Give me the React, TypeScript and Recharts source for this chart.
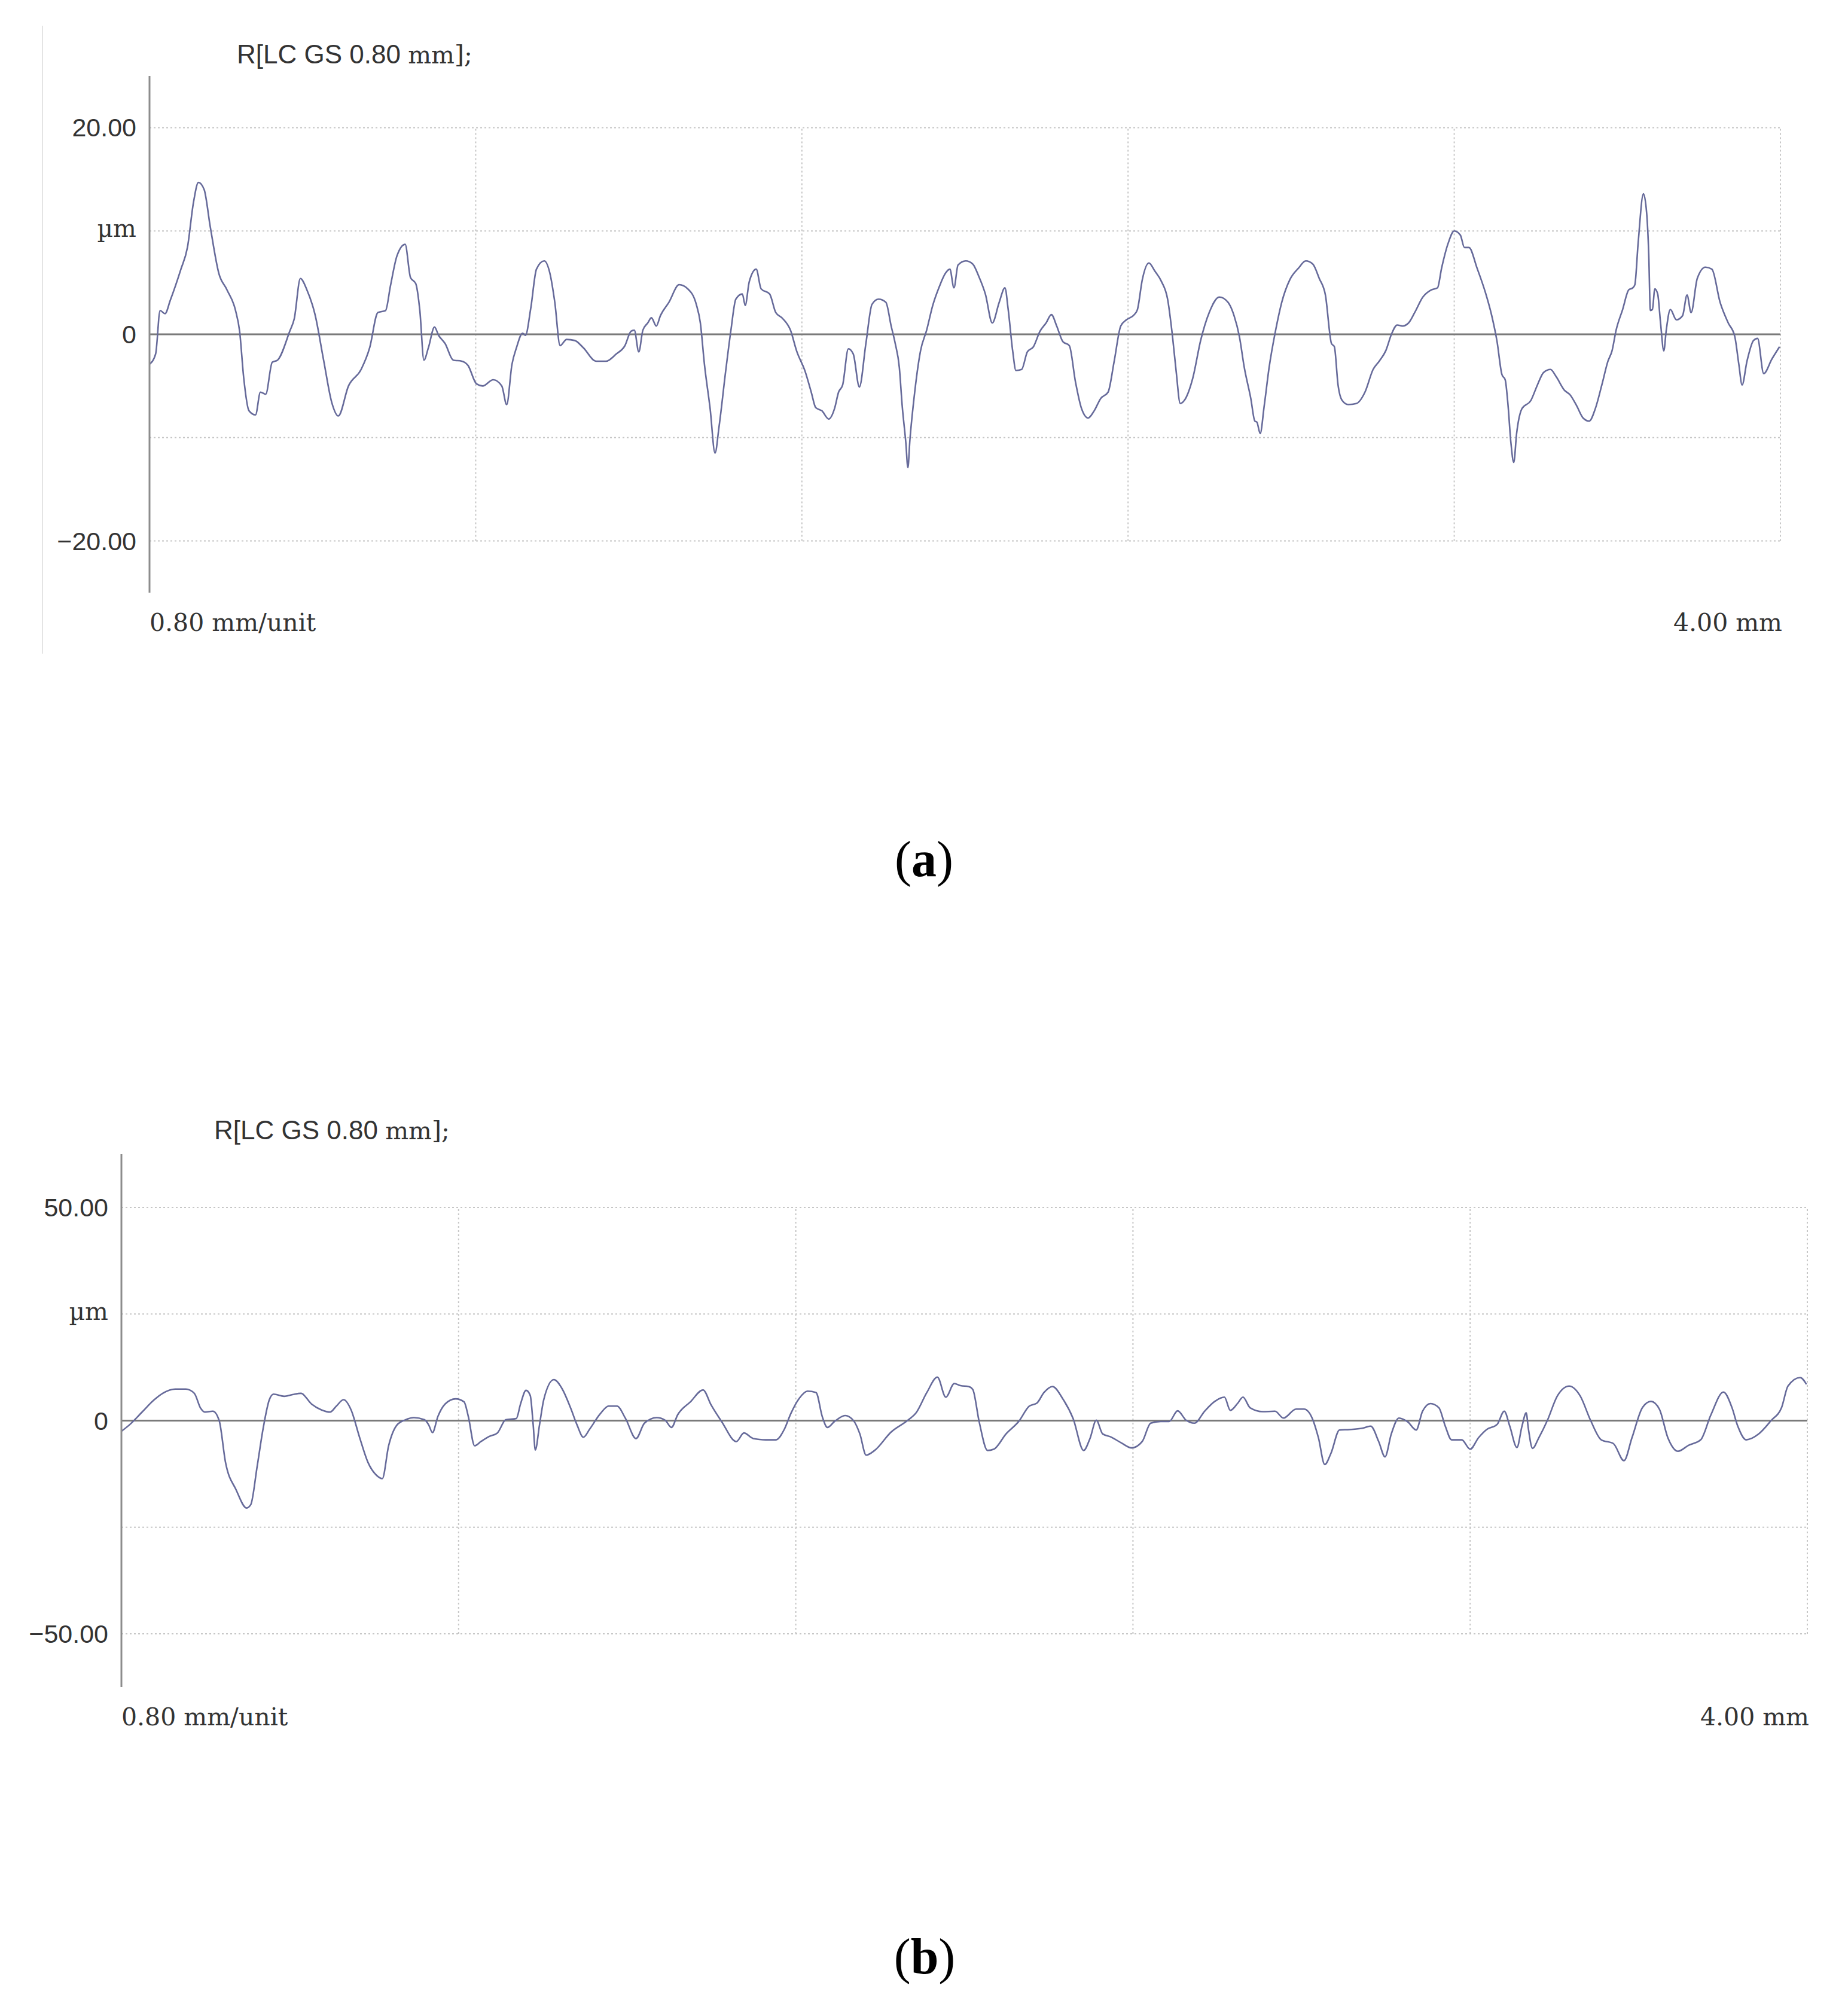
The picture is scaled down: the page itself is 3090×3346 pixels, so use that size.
import React from "react";
import { LineChart, Line, XAxis, YAxis, CartesianGrid, ReferenceLine } from "recharts";

type Pt = [number, number];

// (a) roughness profile, x in mm, height in µm
const profileA1: Pt[] = [
  [0, -2.9], [0.015, -1.9], [0.026, 2.3], [0.038, 2.0], [0.051, 3.3], [0.077, 6.3], [0.093, 8.4], [0.108, 12.8],
  [0.12, 14.7], [0.134, 14.0], [0.149, 10.4], [0.17, 5.9], [0.19, 4.3], [0.211, 2.3], [0.221, 0.3], [0.231, -4.2],
  [0.244, -7.4], [0.26, -7.8], [0.272, -5.6], [0.285, -5.8], [0.301, -2.7], [0.314, -2.5], [0.344, 0.3], [0.355, 1.5],
  [0.37, 5.4], [0.386, 4.3], [0.406, 1.9], [0.427, -2.5], [0.447, -6.6], [0.463, -7.9], [0.488, -5.0], [0.519, -3.4],
  [0.54, -1.3], [0.56, 2.1], [0.579, 2.3], [0.591, 4.7], [0.607, 7.6], [0.627, 8.7], [0.64, 5.5], [0.653, 4.9],
  [0.663, 2.3], [0.673, -2.5], [0.684, -1.3], [0.699, 0.7], [0.709, -0.1], [0.725, -0.9], [0.745, -2.5], [0.766, -2.6],
  [0.781, -3.0], [0.802, -4.8], [0.817, -5.0], [0.843, -4.4], [0.864, -5.0], [0.876, -6.8], [0.889, -2.9], [0.9, -1.3],
  [0.915, 0.1], [0.922, -0.1], [0.935, 2.5], [0.949, 6.3], [0.968, 7.1], [0.982, 5.9], [0.994, 3.1], [1.007, -1.1],
  [1.023, -0.5], [1.043, -0.6], [1.064, -1.3], [1.095, -2.6],
];
const profileA2: Pt[] = [
  [1.12, -2.6], [1.145, -1.9], [1.166, -1.1], [1.181, 0.3], [1.189, 0.4], [1.2, -1.7], [1.21, 0.4], [1.222, 1.1],
  [1.231, 1.6], [1.243, 0.8], [1.253, 1.8], [1.274, 3.1], [1.299, 4.8], [1.32, 4.4], [1.341, 2.9], [1.351, 1.1],
  [1.361, -2.9], [1.375, -7.2], [1.387, -11.5], [1.397, -8.9], [1.413, -3.6], [1.426, 0.4], [1.438, 3.4], [1.454, 3.9],
  [1.461, 2.8], [1.471, 5.1], [1.488, 6.3], [1.5, 4.4], [1.521, 3.9], [1.536, 2.1], [1.551, 1.6], [1.572, 0.4],
  [1.587, -1.6], [1.608, -3.6], [1.623, -5.6], [1.634, -7.1], [1.649, -7.4], [1.666, -8.2], [1.68, -7.2], [1.69, -5.6],
  [1.7, -4.9], [1.714, -1.4], [1.726, -1.9], [1.741, -5.1], [1.757, -0.9], [1.772, 2.9], [1.788, 3.4], [1.806, 3.1],
  [1.819, 0.8], [1.829, -0.9], [1.839, -3.2], [1.846, -6.9], [1.855, -10.5], [1.86, -12.9], [1.865, -10.2], [1.875, -6.2],
  [1.891, -1.6], [1.906, 0.4], [1.921, 2.8], [1.937, 4.6], [1.952, 5.9], [1.963, 6.3], [1.973, 4.5], [1.983, 6.7],
  [2.002, 7.1], [2.019, 6.8], [2.034, 5.6], [2.05, 3.9], [2.067, 1.1], [2.084, 3.1], [2.098, 4.5], [2.106, 2.4],
  [2.117, -1.6], [2.125, -3.5], [2.139, -3.4], [2.153, -1.7], [2.168, -1.2], [2.184, 0.3], [2.199, 1.1], [2.212, 1.9],
  [2.225, 0.8], [2.24, -0.7], [2.256, -1.1], [2.271, -4.6], [2.286, -7.2], [2.302, -8.1], [2.317, -7.4], [2.333, -6.2],
  [2.351, -5.6], [2.366, -2.6], [2.382, 0.8], [2.396, 1.4], [2.415, 1.9], [2.423, 2.4], [2.435, 5.3], [2.451, 6.9],
  [2.466, 6.1], [2.482, 5.1], [2.497, 3.4], [2.509, -0.2], [2.518, -3.6], [2.528, -6.7], [2.538, -6.4], [2.559, -4.2],
];
const profileA3: Pt[] = [
  [2.578, -0.6], [2.599, 2.1], [2.624, 3.6], [2.645, 3.1], [2.66, 1.8], [2.673, -0.2], [2.685, -3.2], [2.701, -6.2],
  [2.711, -8.4], [2.716, -8.5], [2.724, -9.6], [2.734, -6.9], [2.746, -3.2], [2.762, 0.4], [2.777, 3.1], [2.797, 5.3],
  [2.818, 6.4], [2.836, 7.1], [2.853, 6.8], [2.869, 5.4], [2.884, 3.8], [2.899, -0.9], [2.906, -1.2], [2.915, -4.9],
  [2.925, -6.4], [2.94, -6.8], [2.96, -6.7], [2.981, -5.6], [3.001, -3.4], [3.016, -2.6], [3.032, -1.6], [3.047, 0.1],
  [3.06, 0.9], [3.073, 0.8], [3.088, 1.1], [3.103, 2.1], [3.123, 3.6], [3.144, 4.3], [3.159, 4.5], [3.169, 6.4],
  [3.185, 8.8], [3.2, 10.0], [3.215, 9.6], [3.225, 8.4], [3.236, 8.4], [3.256, 6.4], [3.276, 4.1], [3.292, 1.8],
  [3.305, -0.7], [3.317, -3.9], [3.325, -4.4], [3.332, -6.9], [3.339, -10.5], [3.346, -12.4], [3.353, -9.6], [3.366, -7.2],
  [3.388, -6.4], [3.404, -4.9], [3.419, -3.7], [3.436, -3.4], [3.45, -4.1], [3.47, -5.4], [3.485, -5.9], [3.5, -6.9],
  [3.516, -8.1], [3.531, -8.4], [3.546, -7.2], [3.562, -4.9], [3.577, -2.6], [3.587, -1.6], [3.597, 0.4], [3.613, 2.4],
  [3.628, 4.3], [3.638, 4.5], [3.643, 4.8], [3.651, 8.8], [3.664, 13.6], [3.672, 11.7], [3.677, 7.8], [3.681, 2.3],
  [3.686, 2.4], [3.692, 4.4], [3.699, 3.9], [3.706, 1.1], [3.714, -1.6], [3.72, 0.4], [3.73, 2.4], [3.745, 1.4],
  [3.76, 1.8], [3.771, 3.8], [3.781, 2.1], [3.796, 5.4], [3.816, 6.5], [3.832, 6.3], [3.852, 3.1], [3.872, 1.1],
  [3.888, -0.2], [3.898, -2.9], [3.906, -4.9], [3.918, -2.6], [3.934, -0.6], [3.944, -0.4], [3.959, -3.8], [3.979, -2.4],
  [3.998, -1.2],
];

// (b) roughness profile
const profileB1: Pt[] = [
  [0, -2.5], [0.019, -1.0], [0.049, 2.0], [0.078, 4.9], [0.098, 6.4], [0.128, 7.4], [0.153, 7.4], [0.173, 6.4],
  [0.188, 2.9], [0.198, 2.0], [0.217, 2.2], [0.232, 0], [0.247, -9.8], [0.272, -16.2], [0.297, -20.5], [0.307, -19.7],
  [0.322, -10.8], [0.336, -2.0], [0.351, 4.9], [0.361, 6.2], [0.386, 5.7], [0.406, 6.1], [0.426, 6.4], [0.451, 3.9],
  [0.475, 2.5], [0.495, 2.0], [0.51, 3.4], [0.527, 4.9], [0.545, 2.5], [0.565, -3.9], [0.585, -9.8], [0.605, -12.8],
  [0.619, -13.6], [0.634, -5.9], [0.654, -1.0], [0.674, 0.2], [0.694, 0.7], [0.719, 0.2], [0.729, -1.0], [0.738, -2.8],
  [0.751, 1.0], [0.768, 3.9], [0.793, 5.1], [0.813, 4.4], [0.823, 1.0], [0.838, -5.9], [0.853, -4.9], [0.873, -3.7],
  [0.892, -2.9], [0.912, 0.2], [0.937, 0.5], [0.947, 3.9], [0.96, 7.1], [0.97, 5.9], [0.977, -1.0], [0.982, -6.9],
  [0.992, -1.0], [1.002, 4.9], [1.026, 9.6], [1.046, 7.4], [1.066, 2.9], [1.081, -1.0], [1.096, -3.9], [1.111, -2.0],
];
const profileB2: Pt[] = [
  [1.136, 1.6], [1.156, 3.4], [1.176, 3.4], [1.196, 0.5], [1.221, -4.2], [1.241, -0.6], [1.27, 0.7], [1.29, 0.1],
  [1.305, -1.6], [1.32, 1.4], [1.35, 4.4], [1.38, 7.2], [1.399, 3.7], [1.424, -0.2], [1.459, -4.9], [1.477, -2.9],
  [1.499, -4.2], [1.529, -4.5], [1.553, -4.5], [1.573, -2.0], [1.588, 1.6], [1.608, 5.2], [1.628, 6.9], [1.648, 6.6],
  [1.663, 0.9], [1.675, -1.6], [1.692, -0.2], [1.717, 1.2], [1.737, 0], [1.752, -3.1], [1.767, -8.1], [1.787, -7.0],
  [1.826, -2.7], [1.866, 0.1], [1.886, 1.9], [1.911, 6.6], [1.936, 10.2], [1.956, 5.5], [1.976, 8.7], [1.991, 8.2],
  [2.01, 8.0], [2.02, 7.3], [2.035, -0.2], [2.055, -7.0], [2.07, -6.7], [2.099, -3.1], [2.129, -0.2], [2.154, 3.4],
  [2.172, 4.1], [2.189, 6.6], [2.209, 8.0], [2.233, 5.2], [2.258, 0.5], [2.283, -7.0], [2.298, -4.2], [2.313, 0.1],
  [2.328, -3.1], [2.347, -3.8], [2.372, -5.2], [2.397, -6.4], [2.422, -4.9], [2.442, -0.6], [2.466, -0.2], [2.486, -0.2],
  [2.506, 2.3], [2.526, 0.1], [2.546, -0.6],
];
const profileB3: Pt[] = [
  [2.57, 2.2], [2.594, 4.5], [2.617, 5.5], [2.631, 2.4], [2.648, 4.0], [2.661, 5.5], [2.678, 3.0], [2.708, 2.1],
  [2.737, 2.2], [2.757, 0.6], [2.787, 2.7], [2.806, 2.7], [2.826, 0.4], [2.84, -4.0], [2.855, -10.3], [2.87, -7.6],
  [2.89, -2.2], [2.914, -2.1], [2.944, -1.8], [2.964, -1.3], [2.983, -4.9], [2.998, -8.5], [3.013, -3.1], [3.031, 0.6],
  [3.052, -0.3], [3.072, -2.2], [3.087, 2.2], [3.106, 4.0], [3.126, 3.0], [3.141, -1.3], [3.156, -4.5], [3.18, -4.5],
  [3.2, -6.7], [3.22, -4.0], [3.239, -2.1], [3.264, -0.9], [3.281, 2.2], [3.294, -1.3], [3.311, -6.3], [3.323, -1.3],
  [3.333, 1.8], [3.338, -1.8], [3.348, -6.5], [3.363, -4.0], [3.383, 0], [3.407, 5.8], [3.435, 8.1], [3.461, 5.8],
  [3.486, 0], [3.511, -4.5], [3.54, -5.4], [3.565, -9.4], [3.584, -4.0], [3.609, 3.1], [3.629, 4.5], [3.649, 2.7],
  [3.669, -4.0], [3.693, -7.2], [3.718, -5.8], [3.747, -4.5], [3.771, 1.3], [3.801, 6.7], [3.821, 3.1], [3.835, -1.3],
  [3.855, -4.5], [3.885, -3.1], [3.914, 0], [3.939, 3.1], [3.954, 8.1], [3.983, 10.1], [3.998, 8.5],
];

const xTicks = [0, 4];
const xLabels = ["0.80 mm/unit", "4.00 mm"];
const gridX = [0.8, 1.6, 2.4, 3.2, 4.0];
const yTicksA = [20, 10, 0, -10, -20];
const yLabelsA = ["20.00", "µm", "0", "", "−20.00"];
const yTicksB = [50, 25, 0, -25, -50];
const yLabelsB = ["50.00", "µm", "0", "", "−50.00"];

const GRID = "#c6c6c6";
const TEXT = "#333";

const XTick = (props: any) => {
  const { x, y, payload } = props;
  const i = xTicks.indexOf(payload.value);
  return (
    <text
      x={i === 0 ? x : x + 3}
      y={y + 64}
      textAnchor={i === 0 ? "start" : "end"}
      fontFamily="DejaVu Serif"
      fontSize={41}
      fill={TEXT}
    >
      {xLabels[i]}
    </text>
  );
};

const makeYTick = (ticks: number[], labels: string[]) => (props: any) => {
  const { x, y, payload } = props;
  const i = ticks.indexOf(payload.value);
  const label = labels[i] ?? "";
  const serif = label === "µm";
  return (
    <text
      x={x}
      y={y}
      dy={serif ? 10 : 15}
      textAnchor="end"
      fontFamily={serif ? "DejaVu Serif" : "Liberation Sans"}
      fontSize={serif ? 41 : 43}
      fill={TEXT}
    >
      {label}
    </text>
  );
};

type ProfileProps = {
  points: Pt[];
  yMax: number;
  yTicks: number[];
  yLabels: string[];
  top: number;
  height: number;
  margin: { top: number; right: number; bottom: number; left: number };
};

function Profile({ points, yMax, yTicks, yLabels, top, height, margin }: ProfileProps) {
  const data = points.map(([x, y]) => ({ x, y }));
  const hi = yTicks[0];
  const lo = yTicks[yTicks.length - 1];
  return (
    <div style={{ position: "absolute", left: 0, top }}>
      <LineChart width={3090} height={height} data={data} margin={margin}>
        <CartesianGrid
          vertical={false}
          horizontalValues={yTicks}
          stroke={GRID}
          strokeDasharray="3 4"
          strokeWidth={2}
        />
        {gridX.map((gx) => (
          <ReferenceLine
            key={gx}
            segment={[{ x: gx, y: lo }, { x: gx, y: hi }]}
            stroke={GRID}
            strokeDasharray="3 4"
            strokeWidth={2}
          />
        ))}
        <XAxis
          type="number"
          dataKey="x"
          domain={[0, 4]}
          ticks={xTicks}
          interval={0}
          axisLine={false}
          tickLine={false}
          tickSize={0}
          tickMargin={0}
          height={60}
          tick={XTick}
        />
        <YAxis
          type="number"
          domain={[-yMax, yMax]}
          ticks={yTicks}
          interval={0}
          width={100}
          allowDataOverflow
          tickLine={false}
          tickSize={0}
          tickMargin={22}
          axisLine={{ stroke: "#8c8c8c", strokeWidth: 3 }}
          tick={makeYTick(yTicks, yLabels)}
        />
        <ReferenceLine y={0} stroke="#7a7a7a" strokeWidth={3} />
        <Line
          type="monotone"
          dataKey="y"
          stroke="#666a9a"
          strokeWidth={2.6}
          dot={false}
          isAnimationActive={false}
        />
      </LineChart>
    </div>
  );
}

export default function App() {
  return (
    <div style={{ position: "absolute", left: 0, top: 0, width: 3090, height: 3346, background: "#fff" }}>
      <Profile
        points={[...profileA1, ...profileA2, ...profileA3]}
        yMax={25}
        yTicks={yTicksA}
        yLabels={yLabelsA}
        top={0}
        height={1100}
        margin={{ top: 127, right: 113, bottom: 49, left: 150 }}
      />
      <Profile
        points={[...profileB1, ...profileB2, ...profileB3]}
        yMax={62.5}
        yTicks={yTicksB}
        yLabels={yLabelsB}
        top={1800}
        height={1130}
        margin={{ top: 130, right: 68, bottom: 49, left: 103 }}
      />
      <svg
        width={3090}
        height={3346}
        style={{ position: "absolute", left: 0, top: 0, pointerEvents: "none" }}
      >
        <line x1={71} y1={43} x2={71} y2={1093} stroke="#e4e4e4" strokeWidth={2} />
        <text x={396} y={106} fontFamily="Liberation Sans" fontSize={44} fill={TEXT}>
          R[LC GS 0.80 <tspan fontFamily="DejaVu Serif" fontSize={41}>mm];</tspan>
        </text>
        <text x={358} y={1905} fontFamily="Liberation Sans" fontSize={44} fill={TEXT}>
          R[LC GS 0.80 <tspan fontFamily="DejaVu Serif" fontSize={41}>mm];</tspan>
        </text>
        <text x={1545} y={1465} textAnchor="middle" fontFamily="Liberation Serif" fontSize={84} fill="#000">
          (<tspan fontWeight="bold">a</tspan>)
        </text>
        <text x={1546} y={3300} textAnchor="middle" fontFamily="Liberation Serif" fontSize={84} fill="#000">
          (<tspan fontWeight="bold">b</tspan>)
        </text>
      </svg>
    </div>
  );
}
